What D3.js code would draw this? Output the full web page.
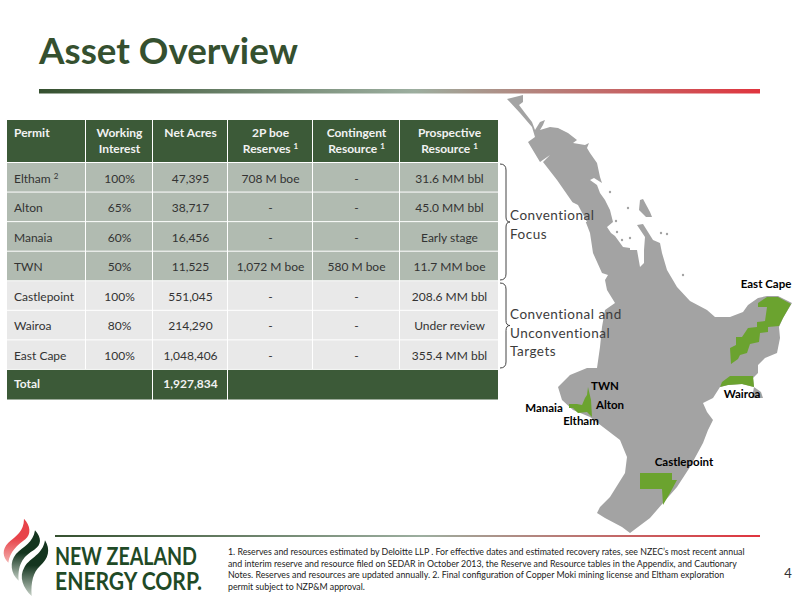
<!DOCTYPE html>
<html>
<head>
<meta charset="utf-8">
<script src="https://cdn.jsdelivr.net/npm/d3@7"></script>
<style>
  html, body { margin: 0; background: #fff; }
  text { font-family: Lato, "Open Sans", sans-serif; }
</style>
</head>
<body>
<svg id="slide" width="800" height="600"></svg>
<script>
// table content
const columns = ['Permit', 'Working\nInterest', 'Net Acres', '2P boe\nReserves ¹', 'Contingent\nResource ¹', 'Prospective\nResource ¹']
const permits = ['Eltham ²', 'Alton', 'Manaia', 'TWN', 'Castlepoint', 'Wairoa', 'East Cape']
const workingInterest = ['100%', '65%', '60%', '50%', '100%', '80%', '100%']
const netAcres = ['47,395', '38,717', '16,456', '11,525', '551,045', '214,290', '1,048,406']
const reserves = ['708 M boe', '-', '-', '1,072 M boe', '-', '-', '-']
const contingent = ['-', '-', '-', '580 M boe', '-', '-', '-']
const prospective = ['31.6 MM bbl', '45.0 MM bbl', 'Early stage', '11.7 MM boe', '208.6 MM bbl', 'Under review', '355.4 MM bbl']
const totalRow = ['Total', '', '1,927,834', '', '', '']

// map outlines
const northIsland = [[507,99],[523,95],[523,102],[519,105],[525,113],[532,122],[535,130],[540,122],[545,120],[543,125],[540,130],[550,127],[558,128],[568,133],[577,140],[573,143],[585,145],[589,143],[587,148],[590,153],[597,163],[600,177],[602,183],[594,178],[590,180],[597,185],[600,193],[605,200],[610,210],[613,222],[607,227],[611,233],[615,236],[623,247],[630,248],[630,250],[637,250],[640,267],[644,263],[644,250],[645,237],[637,225],[643,224],[653,240],[660,243],[662,253],[667,270],[677,287],[690,301],[707,310],[715,317],[730,317],[743,312],[748,305],[758,298],[767,296],[778,296],[792,303],[783,318],[779,327],[780,338],[777,353],[765,358],[758,365],[758,373],[753,378],[754,387],[761,392],[763,398],[752,398],[754,387],[742,384],[728,385],[720,387],[713,398],[703,403],[707,412],[713,420],[708,430],[703,443],[690,467],[677,487],[663,503],[650,518],[630,533],[622,527],[605,518],[597,513],[600,507],[610,497],[625,473],[627,457],[620,440],[603,427],[590,417],[573,410],[562,400],[558,387],[570,375],[587,368],[597,368],[600,347],[602,327],[605,310],[615,303],[607,290],[605,280],[608,275],[602,273],[593,253],[590,233],[585,220],[573,203],[557,180],[543,162],[550,155],[540,162],[528,142],[535,137],[532,127],[520,113]]
const greatBarrier = [[640,200],[643,199],[650,212],[652,217],[646,217],[639,210]]
const kaiparaInlet = [[572,202],[578,205],[587,222],[583,222]]
const islets = [[610,192],[628,208],[616,221],[617,232],[622,240],[630,238],[661,233],[667,234],[683,275]]
const eastCapePermit = [[758,303],[767,297],[778,297],[791,304],[783,318],[779,326],[768,327],[768,332],[760,333],[759,342],[750,344],[747,353],[740,355],[738,359],[731,364],[730,348],[736,345],[736,337],[742,337],[748,328],[757,327],[757,322],[765,321],[767,307],[758,307]]
const wairoaPermit = [[720,387],[722,382],[730,376],[753,376],[754,387],[742,384],[728,385]]
const castlepointPermit = [[640,473],[672,473],[672,480],[677,480],[670,493],[663,505],[662,489],[640,489]]
const taranakiPermits = [[588,387],[591,400],[592,417],[587,412],[578,413],[573,408],[569,408],[569,404],[577,404],[582,405],[585,398],[587,395]]
const mapLabels = [['East Cape', 766, 288], ['TWN', 605, 390], ['Alton', 610, 409], ['Manaia', 544, 412], ['Eltham', 581, 425], ['Wairoa', 742, 398], ['Castlepoint', 684, 466]]

// footnote and side labels
const footnotes = [
  '1. Reserves and resources estimated by Deloitte LLP . For effective dates and estimated recovery rates, see NZEC’s most recent  annual',
  'and interim reserve and resource filed on SEDAR in October 2013, the Reserve and Resource tables in the Appendix, and Cautionary',
  'Notes. Reserves and resources are updated annually. 2. Final configuration of Copper Moki mining license and Eltham exploration',
  'permit subject to NZP&M approval.'
]
const bracketGroups = [
  { top: 164, bottom: 280, lines: ['Conventional', 'Focus'], firstLine: 220 },
  { top: 283, bottom: 368, lines: ['Conventional and', 'Unconventional', 'Targets'], firstLine: 319 }
]

const green = '#3c5a38'
const columnEdges = [7, 86, 153, 228, 313, 400, 499]
const svg = d3.select('#slide')
const defs = svg.append('defs')

function ruleGradient(id) {
  const g = defs.append('linearGradient').attr('id', id)
  g.append('stop').attr('offset', '0%').attr('stop-color', '#35502f')
  g.append('stop').attr('offset', '52%').attr('stop-color', '#9cae9f')
  g.append('stop').attr('offset', '100%').attr('stop-color', '#e0343e')
}
ruleGradient('rule')

function flameGradient(id, top, bottom) {
  const g = defs.append('linearGradient').attr('id', id).attr('x1', 0).attr('x2', 0).attr('y1', 0).attr('y2', 1)
  g.append('stop').attr('offset', '0%').attr('stop-color', top)
  g.append('stop').attr('offset', '45%').attr('stop-color', top)
  g.append('stop').attr('offset', '100%').attr('stop-color', bottom)
}
flameGradient('flameRed', '#e8434a', '#f3b0ae')
flameGradient('flameGreen', '#14351f', '#c5d0c6')

// superscripts are too small in the font, so draw them as raised digits
function addLabel(sel, label) {
  const sup = label.match(/[¹²]/)
  if (!sup) {
    sel.text(label)
    return
  }
  sel.append('tspan').text(label.replace(sup[0], ''))
  sel.append('tspan').attr('font-size', 8).attr('dy', -4).text(sup[0] === '¹' ? '1' : '2')
}

// title and rules
svg.append('text').attr('x', 39).attr('y', 63.5).attr('font-size', 37).attr('font-weight', 700)
  .attr('fill', '#35502f').attr('textLength', 259).attr('lengthAdjust', 'spacingAndGlyphs').text('Asset Overview')
svg.append('rect').attr('x', 39).attr('y', 89).attr('width', 721).attr('height', 4.5).attr('fill', 'url(#rule)')
svg.append('rect').attr('x', 55).attr('y', 535).attr('width', 705).attr('height', 2).attr('fill', 'url(#rule)')

// map
const outline = d3.line().curve(d3.curveLinearClosed)
const map = svg.append('g').attr('class', 'map')
map.append('path').attr('d', outline(northIsland)).attr('fill', '#a3a3a3')
map.append('path').attr('d', outline(greatBarrier)).attr('fill', '#a3a3a3')
map.append('path').attr('d', outline(kaiparaInlet)).attr('fill', '#fff')
map.selectAll('circle').data(islets).join('circle')
  .attr('cx', (d) => d[0]).attr('cy', (d) => d[1]).attr('r', 1.2).attr('fill', '#a3a3a3')
map.selectAll('path.permit').data([eastCapePermit, wairoaPermit, castlepointPermit, taranakiPermits]).join('path')
  .attr('class', 'permit').attr('d', outline).attr('fill', '#6ba32f')
map.selectAll('text').data(mapLabels).join('text')
  .attr('x', (d) => d[1]).attr('y', (d) => d[2]).attr('text-anchor', 'middle')
  .attr('font-size', 11.5).attr('font-weight', 700).attr('fill', '#000').text((d) => d[0])

// table
const rowY = d3.scaleLinear().domain([0, 8]).range([163, 399.5])
const rows = permits.map((p, i) => [p, workingInterest[i], netAcres[i], reserves[i], contingent[i], prospective[i]])
const table = svg.append('g').attr('class', 'table')

function cellX(j) {
  return j === 0 ? columnEdges[0] + 7 : (columnEdges[j] + columnEdges[j + 1]) / 2
}
function cellAnchor(j) {
  return j === 0 ? 'start' : 'middle'
}

// header
columns.forEach(function (label, j) {
  table.append('rect').attr('x', columnEdges[j]).attr('y', 120)
    .attr('width', columnEdges[j + 1] - columnEdges[j] - 1).attr('height', 42).attr('fill', green)
  label.split('\n').forEach(function (line, k) {
    table.append('text').attr('x', cellX(j)).attr('y', 137 + k * 16).attr('text-anchor', cellAnchor(j))
      .attr('font-size', 12).attr('font-weight', 700).attr('fill', '#f2f2f2').call(addLabel, line)
  })
})

// body
rows.forEach(function (row, i) {
  row.forEach(function (value, j) {
    table.append('rect').attr('x', columnEdges[j]).attr('y', rowY(i))
      .attr('width', columnEdges[j + 1] - columnEdges[j] - 1).attr('height', rowY(i + 1) - rowY(i) - 1)
      .attr('fill', i < 4 ? '#b1bbb1' : '#e9e9e9')
    table.append('text').attr('x', cellX(j)).attr('y', rowY(i) + 19.5).attr('text-anchor', cellAnchor(j))
      .attr('font-size', 12).attr('fill', '#333').call(addLabel, value)
  })
})

// total row spans the first two and the last three columns
table.selectAll('rect.total').data([[0, 2], [2, 3], [3, 6]]).join('rect').attr('class', 'total')
  .attr('x', (d) => columnEdges[d[0]]).attr('y', rowY(7))
  .attr('width', (d) => columnEdges[d[1]] - columnEdges[d[0]] - 1).attr('height', rowY(8) - rowY(7))
  .attr('fill', green)
totalRow.forEach(function (value, j) {
  table.append('text').attr('x', cellX(j)).attr('y', rowY(7) + 18).attr('text-anchor', cellAnchor(j))
    .attr('font-size', 12).attr('font-weight', 700).attr('fill', '#f2f2f2').text(value)
})

// brackets
bracketGroups.forEach(function (g) {
  const mid = (g.top + g.bottom) / 2
  svg.append('path').attr('fill', 'none').attr('stroke', '#444').attr('stroke-width', 1)
    .attr('d', `M500,${g.top} Q506,${g.top} 506,${g.top + 6} L506,${mid - 5} Q506,${mid} 510,${mid} Q506,${mid} 506,${mid + 5} L506,${g.bottom - 6} Q506,${g.bottom} 500,${g.bottom}`)
  g.lines.forEach(function (line, k) {
    svg.append('text').attr('x', 510).attr('y', g.firstLine + k * 18.5).attr('font-size', 13.5)
      .attr('letter-spacing', 0.5).attr('fill', '#3c3c3c').text(line)
  })
})

// logo
const logo = svg.append('g').attr('transform', 'translate(0,512) scale(0.3333)')
logo.append('path').attr('fill', 'url(#flameRed)')
  .attr('d', 'M72,20 C92,42 94,66 76,82 C52,100 30,118 25,152 C8,135 5,112 25,92 C48,72 72,58 72,20 Z')
logo.append('path').attr('fill', 'url(#flameGreen)')
  .attr('d', 'M105,55 C125,78 126,98 102,114 C76,130 52,150 56,206 C32,185 28,150 48,126 C70,104 100,92 105,55 Z')
logo.append('path').attr('fill', 'url(#flameGreen)')
  .attr('d', 'M135,85 C152,112 146,140 120,162 C100,180 92,210 95,252 C70,228 55,195 74,164 C92,136 128,128 135,85 Z')
svg.append('text').attr('x', 55).attr('y', 565).attr('font-size', 24).attr('font-weight', 700)
  .attr('fill', '#1f4a26').attr('textLength', 142).attr('lengthAdjust', 'spacingAndGlyphs').text('NEW ZEALAND')
svg.append('text').attr('x', 55).attr('y', 590).attr('font-size', 24).attr('font-weight', 700)
  .attr('fill', '#1f4a26').attr('textLength', 147).attr('lengthAdjust', 'spacingAndGlyphs').text('ENERGY CORP.')

// footnote
svg.selectAll('text.footnote').data(footnotes).join('text').attr('class', 'footnote')
  .attr('x', 228).attr('y', (d, i) => 555 + i * 11.7)
  .attr('font-size', 8.8).attr('fill', '#222').text((d) => d)
svg.append('text').attr('x', 788).attr('y', 578).attr('text-anchor', 'middle').attr('font-size', 13).attr('fill', '#333').text('4')
</script>
</body>
</html>
